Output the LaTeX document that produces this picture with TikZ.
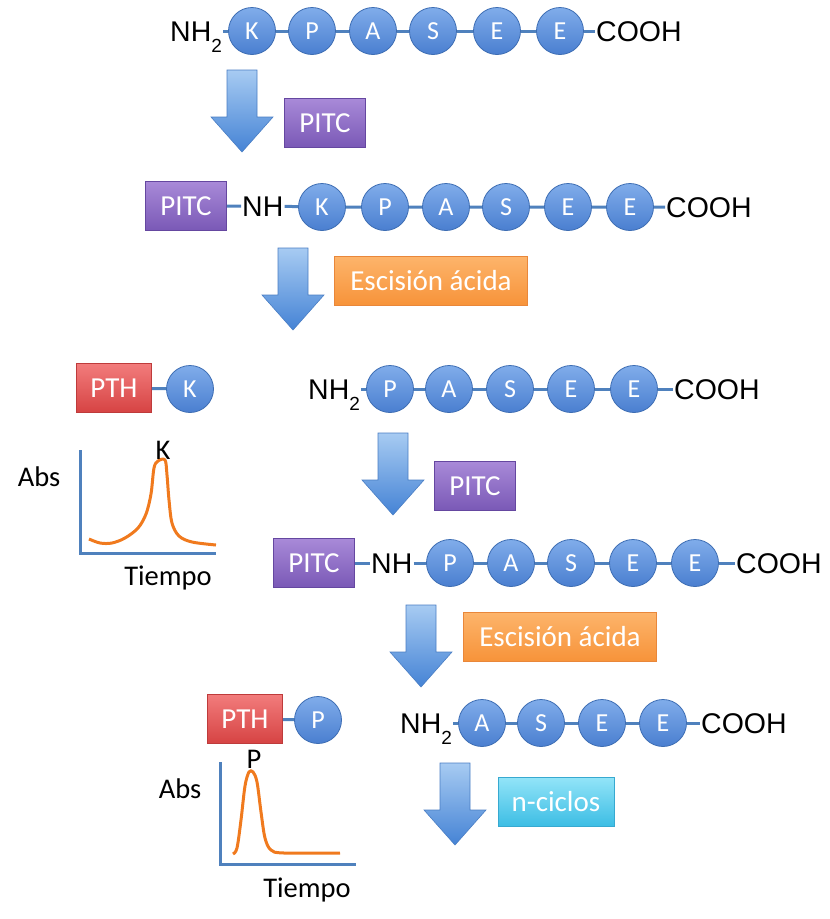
\documentclass[tikz,border=0pt]{standalone}
\usepackage{fontspec}
\setmainfont{Carlito}
\newfontfamily\quimfont{Liberation Sans}
\newcommand{\subdos}{\raisebox{-0.38em}{\fontsize{19}{19}\selectfont 2}}

\definecolor{aatop}{HTML}{80ACEA}
\definecolor{aabot}{HTML}{4A7FD0}
\definecolor{aaline}{HTML}{3D6DB3}
\definecolor{pitctop}{HTML}{A88AD8}
\definecolor{pitcbot}{HTML}{7A58B6}
\definecolor{pitcline}{HTML}{6547A0}
\definecolor{esctop}{HTML}{FDB46A}
\definecolor{escbot}{HTML}{F79339}
\definecolor{escline}{HTML}{E9873A}
\definecolor{pthtop}{HTML}{F27C7C}
\definecolor{pthbot}{HTML}{D64343}
\definecolor{pthline}{HTML}{BE3B3B}
\definecolor{cictop}{HTML}{92E4F8}
\definecolor{cicbot}{HTML}{3CBDE4}
\definecolor{cicline}{HTML}{37A9D0}
\definecolor{arrtop}{HTML}{A7CBF2}
\definecolor{arrbot}{HTML}{4583D5}
\definecolor{arrline}{HTML}{4A7EC4}
\definecolor{enlacecol}{HTML}{4F81BD}
\definecolor{curvacol}{HTML}{F07A1E}

\tikzset{
  aa/.style={circle, minimum size=47pt, inner sep=0pt, top color=aatop, bottom color=aabot,
    draw=aaline, line width=0.8pt, text=white, text height=17pt, text depth=0pt,
    font=\fontsize{26}{26}\selectfont},
  caja/.style={minimum height=49pt, inner sep=0pt, text=white, text height=19pt, text depth=0pt,
    line width=0.8pt, font=\fontsize{29}{29}\selectfont},
  pitc/.style={caja, minimum width=81pt, top color=pitctop, bottom color=pitcbot, draw=pitcline},
  esc/.style={caja, minimum width=193pt, top color=esctop, bottom color=escbot, draw=escline},
  pth/.style={caja, minimum width=75pt, top color=pthtop, bottom color=pthbot, draw=pthline},
  ciclos/.style={caja, minimum width=116pt, top color=cictop, bottom color=cicbot, draw=cicline},
  quim/.style={anchor=west, inner sep=1pt, text height=20.4pt, text depth=0pt,
    font=\quimfont\fontsize{28.5}{28.5}\selectfont},
  enlace/.style={draw=enlacecol, line width=3pt},
  flecha/.style={top color=arrtop, bottom color=arrbot, draw=arrline, line width=0.6pt},
  eje/.style={draw=enlacecol, line width=3pt},
  curva/.style={draw=curvacol, line width=3pt, line join=round},
  rotulo/.style={anchor=base, inner sep=0pt, font=\fontsize{28.5}{28.5}\selectfont}
}
\newcommand{\flecha}[2]{\path[flecha] (#1-15,#2) -- ++(30,0) -- ++(0,47) -- ++(16,0)
  -- ++(-31,35) -- ++(-31,-35) -- ++(16,0) -- cycle;}

\begin{document}
\begin{tikzpicture}[x=1pt,y=-1pt]
  \useasboundingbox (0,0) rectangle (830,919);

  % peptido inicial
  \node[quim] (nh1) at (169,31) {NH\subdos};
  \node[aa] (r1a) at (252,31) {K};
  \node[aa] (r1b) at (312,31) {P};
  \node[aa] (r1c) at (373,31) {A};
  \node[aa] (r1d) at (433,31) {S};
  \node[aa] (r1e) at (497,31) {E};
  \node[aa] (r1f) at (560,31) {E};
  \node[quim] (cooh1) at (595,31) {COOH};
  \draw[enlace] (nh1) -- (r1a) (r1a) -- (r1b) (r1b) -- (r1c) (r1c) -- (r1d)
    (r1d) -- (r1e) (r1e) -- (r1f) (r1f) -- (cooh1);

  \flecha{242}{70}
  \node[pitc] (pitc1) at (325,123) {PITC};

  % PITC unido
  \node[pitc] (pitc2) at (186,206) {PITC};
  \node[quim] (nh2) at (241,206) {NH};
  \node[aa] (r2a) at (322,207) {K};
  \node[aa] (r2b) at (385,207) {P};
  \node[aa] (r2c) at (446,207) {A};
  \node[aa] (r2d) at (506,207) {S};
  \node[aa] (r2e) at (568,207) {E};
  \node[aa] (r2f) at (630,207) {E};
  \node[quim] (cooh2) at (665,207) {COOH};
  \draw[enlace] (pitc2) -- (nh2) (nh2) -- (r2a) (r2a) -- (r2b) (r2b) -- (r2c)
    (r2c) -- (r2d) (r2d) -- (r2e) (r2e) -- (r2f) (r2f) -- (cooh2);

  \flecha{293}{248}
  \node[esc] (esc1) at (431,281) {Escisión ácida};

  % primer ciclo
  \node[pth] (pth1) at (114,388) {PTH};
  \node[aa] (k0) at (190,389) {K};
  \draw[enlace] (pth1) -- (k0);
  \node[quim] (nh3) at (307,389) {NH\subdos};
  \node[aa] (r3a) at (390,389) {P};
  \node[aa] (r3b) at (449,389) {A};
  \node[aa] (r3c) at (510,389) {S};
  \node[aa] (r3d) at (571,389) {E};
  \node[aa] (r3e) at (634,389) {E};
  \node[quim] (cooh3) at (673,389) {COOH};
  \draw[enlace] (nh3) -- (r3a) (r3a) -- (r3b) (r3b) -- (r3c) (r3c) -- (r3d)
    (r3d) -- (r3e) (r3e) -- (cooh3);

  % cromatograma K
  \draw[eje] (80,450) -- (80,553) -- (216,553);
  \draw[curva] plot[smooth, tension=0.55] coordinates {(89,539) (100,543) (112,543)
    (125,538) (138,528) (146,514) (151,494) (154,468) (158,461) (165,460) (167,475)
    (169,500) (172,523) (179,536) (192,542) (216,545)};
  \node[rotulo] (picok) at (163,459) {K};
  \node[rotulo] (abs1) at (39,486) {Abs};
  \node[rotulo] (t1) at (168,585) {Tiempo};

  \flecha{393}{433}
  \node[pitc] (pitc3) at (475,486) {PITC};

  % segundo ciclo
  \node[pitc] (pitc4) at (314,563) {PITC};
  \node[quim] (nh4) at (370,563) {NH};
  \node[aa] (r4a) at (450,563) {P};
  \node[aa] (r4b) at (511,563) {A};
  \node[aa] (r4c) at (571,563) {S};
  \node[aa] (r4d) at (633,563) {E};
  \node[aa] (r4e) at (695,563) {E};
  \node[quim] (cooh4) at (735,563) {COOH};
  \draw[enlace] (pitc4) -- (nh4) (nh4) -- (r4a) (r4a) -- (r4b) (r4b) -- (r4c)
    (r4c) -- (r4d) (r4d) -- (r4e) (r4e) -- (cooh4);

  \flecha{421}{605}
  \node[esc] (esc2) at (560,637) {Escisión ácida};

  \node[pth] (pth2) at (245,719) {PTH};
  \node[aa] (p0) at (318,720) {P};
  \draw[enlace] (pth2) -- (p0);
  \node[quim] (nh5) at (399,723) {NH\subdos};
  \node[aa] (r5a) at (482,723) {A};
  \node[aa] (r5b) at (541,723) {S};
  \node[aa] (r5c) at (602,723) {E};
  \node[aa] (r5d) at (663,723) {E};
  \node[quim] (cooh5) at (700,723) {COOH};
  \draw[enlace] (nh5) -- (r5a) (r5a) -- (r5b) (r5b) -- (r5c) (r5c) -- (r5d)
    (r5d) -- (cooh5);

  % cromatograma P
  \draw[eje] (220,762) -- (220,864) -- (356,864);
  \draw[curva] plot[smooth, tension=0.55] coordinates {(233,854) (237,848) (241,820)
    (245,786) (249,772) (253,772) (257,782) (261,812) (265,838) (271,850) (284,853)
    (340,853)};
  \node[rotulo] (picop) at (254,768) {P};
  \node[rotulo] (abs2) at (180,798) {Abs};
  \node[rotulo] (t2) at (307,897) {Tiempo};

  \flecha{455}{763}
  \node[ciclos] (ciclos) at (556,802) {n-ciclos};
\end{tikzpicture}
\end{document}
